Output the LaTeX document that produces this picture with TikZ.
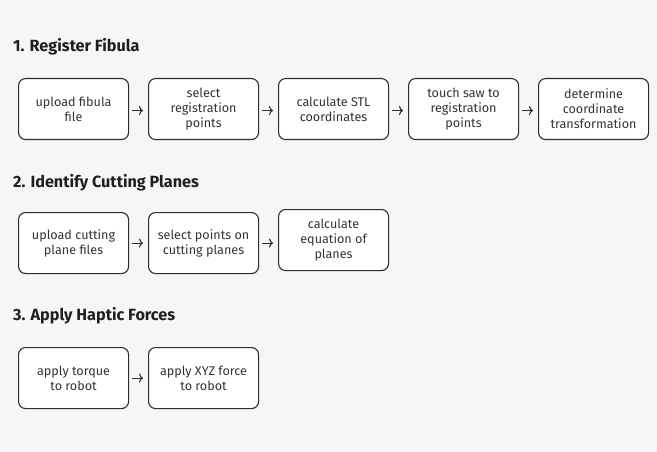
\documentclass[tikz,border=0pt]{standalone}
\usepackage{fontspec}
\setmainfont{Fira Sans}
\usetikzlibrary{arrows.meta,calc}
\definecolor{bgc}{HTML}{F5F6F6}
\definecolor{linec}{HTML}{2E2E2E}
\definecolor{txtc}{HTML}{333333}
\tikzset{
  stepbox/.style={draw=linec, fill=white, line width=1.1pt, rounded corners=7pt,
    minimum width=110pt, minimum height=61pt, inner sep=0pt, anchor=north west,
    align=center, text=txtc, font=\fontsize{12.6}{15}\selectfont},
  sectitle/.style={anchor=west, inner sep=0pt, text=black!88, font=\fontsize{16.2}{18}\selectfont\bfseries},
  flow/.style={draw=linec, line width=1.1pt, -{To[length=4pt,width=9pt]}}
}
\begin{document}
\begin{tikzpicture}[x=1pt,y=-1pt]
\fill[bgc] (0,0) rectangle (657,452);
\useasboundingbox (0,0) rectangle (657,452);

\node[sectitle] (t1) at (13,47) {1. Register Fibula};
\node[stepbox] (a1) at (18,78) {upload fibula\\file};
\node[stepbox] (a2) at (148,78) {select\\registration\\points};
\node[stepbox] (a3) at (278,78) {calculate STL\\coordinates};
\node[stepbox] (a4) at (408,78) {touch saw to\\registration\\points};
\node[stepbox] (a5) at (538,78) {determine\\coordinate\\transformation};
\foreach \u/\v in {a1/a2,a2/a3,a3/a4,a4/a5}
  \draw[flow] ([xshift=3pt,yshift=-1.5pt]\u.east) -- ([xshift=-5pt,yshift=-1.5pt]\v.west);

\node[sectitle] (t2) at (13,183) {2. Identify Cutting Planes};
\node[stepbox] (b1) at (18,212) {upload cutting\\plane files};
\node[stepbox] (b2) at (148,212) {select points on\\cutting planes};
\node[stepbox] (b3) at (278,209) {calculate\\equation of\\planes};
\draw[flow] ([xshift=3pt]b1.east) -- ([xshift=-5pt]b2.west);
\draw[flow] ([xshift=3pt]b2.east) -- ([xshift=-5pt]b3.west |- b2.east);

\node[sectitle] (t3) at (13,316) {3. Apply Haptic Forces};
\node[stepbox] (c1) at (18,347) {apply torque\\to robot};
\node[stepbox] (c2) at (148,347) {apply XYZ force\\to robot};
\draw[flow] ([xshift=3pt]c1.east) -- ([xshift=-5pt]c2.west);
\end{tikzpicture}
\end{document}
